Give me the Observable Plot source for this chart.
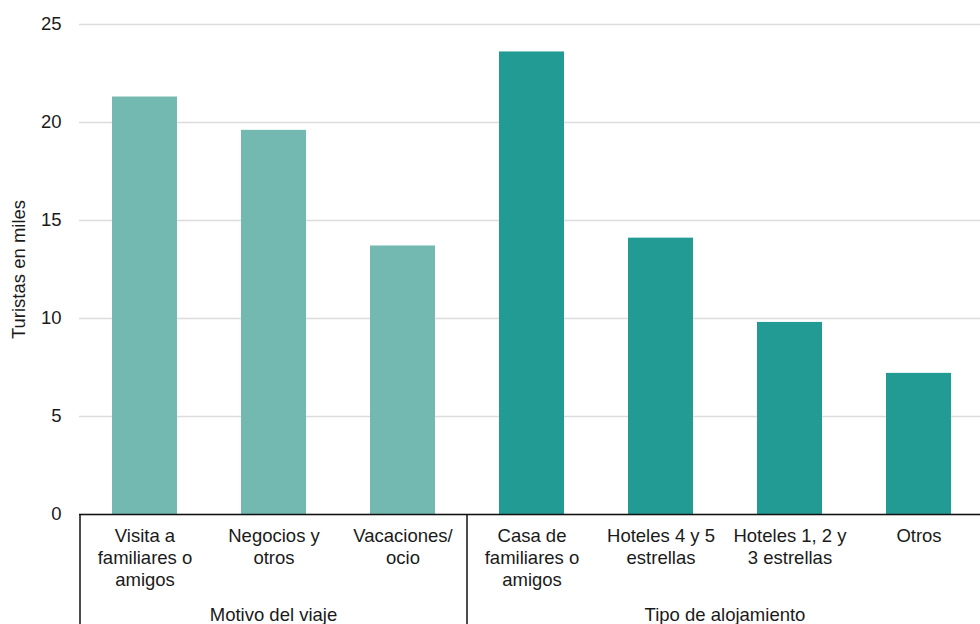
<!DOCTYPE html>
<html><head><meta charset="utf-8">
<script src="https://cdn.jsdelivr.net/npm/d3@7"></script>
<script src="https://cdn.jsdelivr.net/npm/@observablehq/plot@0.6"></script>
<style>
body{margin:0;background:#fff;overflow:hidden}
#chart svg{display:block}
</style>
</head><body><div id="chart"></div>
<script>
const categories = ["Visita a familiares o amigos", "Negocios y otros", "Vacaciones/ocio", "Casa de familiares o amigos", "Hoteles 4 y 5 estrellas", "Hoteles 1, 2 y 3 estrellas", "Otros"];
const tickLabels = ["Visita a\nfamiliares o\namigos", "Negocios y\notros", "Vacaciones/\nocio", "Casa de\nfamiliares o\namigos", "Hoteles 4 y 5\nestrellas", "Hoteles 1, 2 y\n3 estrellas", "Otros"];
const groupOf = ["Motivo del viaje", "Motivo del viaje", "Motivo del viaje", "Tipo de alojamiento", "Tipo de alojamiento", "Tipo de alojamiento", "Tipo de alojamiento"];
const values = [21.3, 19.6, 13.7, 23.6, 14.1, 9.8, 7.2];
const groupNames = ["Motivo del viaje", "Tipo de alojamiento"];
const groupColors = ["#74b8b2", "#239b95"];
const yTicks = [0, 5, 10, 15, 20, 25];

const font = "'Liberation Sans', Arial, Helvetica, sans-serif";
const data = categories.map((c, i) => ({cat: c, label: tickLabels[i], group: groupOf[i], value: values[i]}));

const plot = Plot.plot({
  width: 980, height: 624,
  marginLeft: 79, marginRight: 0, marginTop: 24, marginBottom: 110,
  style: {fontFamily: font, fontSize: "18px", color: "#1a1a1a", background: "#fff"},
  x: {domain: categories, range: [78, 984], paddingInner: 0.5, paddingOuter: 0.25, axis: null},
  y: {domain: [0, 25], axis: null},
  color: {domain: groupNames, range: groupColors},
  marks: [
    Plot.gridY(yTicks, {stroke: "#dcdcdc", strokeOpacity: 1, strokeWidth: 1.5}),
    Plot.axisY(yTicks, {tickSize: 0, tickPadding: 18, fontSize: 18.5, label: "Turistas en miles", labelAnchor: "center", labelArrow: "none", labelOffset: 68}),
    Plot.barY(data, {x: "cat", y: "value", fill: "group"}),
    Plot.ruleY([0], {stroke: "#111", strokeWidth: 1.5}),
    Plot.text(data, {x: "cat", y: 0, text: "label", lineAnchor: "top", dy: 12, lineHeight: 1.19, fontSize: 18.5, fill: "#1a1a1a"})
  ]
});

// separators and group labels, positioned through the plot's own scales
const xs = plot.scale("x"), ys = plot.scale("y");
const gap = xs.step - xs.bandwidth;
const y0 = ys.apply(0);
const svg = d3.select(plot);
groupNames.forEach(g => {
  const cats = categories.filter((c, i) => groupOf[i] === g);
  const left = xs.apply(cats[0]) - gap / 2;
  const right = xs.apply(cats[cats.length - 1]) + xs.bandwidth + gap / 2;
  svg.append("line").attr("x1", left).attr("x2", left).attr("y1", y0).attr("y2", 624)
    .attr("stroke", "#111").attr("stroke-width", 1.5);
  svg.append("text").attr("x", (left + right) / 2).attr("y", y0 + 107)
    .attr("text-anchor", "middle").attr("font-family", font).attr("font-size", 18.5)
    .attr("fill", "#1a1a1a").text(g);
});
document.getElementById("chart").append(plot);
</script>
</body></html>
